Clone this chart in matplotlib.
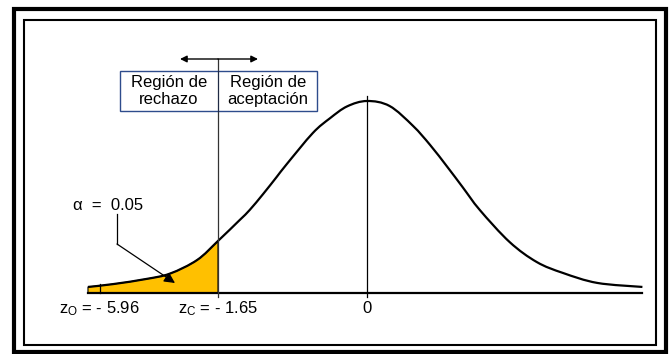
import numpy as np
import matplotlib as mpl
mpl.use('Agg')
import matplotlib.pyplot as plt
from matplotlib.patches import Rectangle, PathPatch
from matplotlib.path import Path

plt.rcParams['font.family'] = ['Liberation Sans', 'DejaVu Sans']
plt.rcParams['mathtext.fontset'] = 'custom'
plt.rcParams['mathtext.rm'] = 'Liberation Sans'
plt.rcParams['mathtext.it'] = 'Liberation Sans'

# curve (z, relative height, peak = 1)
z = [-3.09, -2.81, -2.44, -2.18, -1.88, -1.65, -1.41, -1.30, -1.15, -1.00,
     -0.89, -0.60, -0.41, -0.22, 0.00, 0.25, 0.51, 0.70, 0.89, 1.06,
     1.25, 1.58, 1.88, 2.17, 2.55, 3.05]
h = [0.030, 0.045, 0.072, 0.100, 0.171, 0.270, 0.379, 0.431, 0.515, 0.604,
     0.670, 0.833, 0.910, 0.972, 1.000, 0.974, 0.870, 0.770, 0.656, 0.550,
     0.431, 0.264, 0.160, 0.103, 0.051, 0.030]

z_crit = -1.65
z_obs_mark = -2.96   # where the z_O tick sits on the drawn axis
alpha_label = "α  =  0.05"
lbl_obs = r"z$_{\mathrm{O}}$ = - 5.96"
lbl_crit = r"z$_{\mathrm{C}}$ = - 1.65"
lbl_zero = "0"
left_box = "Región de\nrechazo"
right_box = "Región de\naceptación"

z = np.array(z)
h = np.array(h)


def smooth_path(xs, ys):
    # catmull-rom through the points, drawn as cubic bezier pieces
    pts = np.column_stack([xs, ys])
    verts = [pts[0]]
    codes = [Path.MOVETO]
    n = len(pts)
    for i in range(n - 1):
        p0 = pts[max(i - 1, 0)]
        p1 = pts[i]
        p2 = pts[i + 1]
        p3 = pts[min(i + 2, n - 1)]
        c1 = p1 + (p2 - p0) / 6.0
        c2 = p2 - (p3 - p1) / 6.0
        verts += [c1, c2, p2]
        codes += [Path.CURVE4] * 3
    return verts, codes


fig = plt.figure(figsize=(6.7, 3.54), dpi=100)
ax = fig.add_axes([0, 0, 1, 1])
ax.set_xlim(-367 / 90.3, 303 / 90.3)
ax.set_ylim((292.7 - 354) / 191.7, 292.7 / 191.7)
ax.axis('off')

# pixel overlay for frame / box / callouts
px = fig.add_axes([0, 0, 1, 1])
px.set_xlim(0, 670)
px.set_ylim(354, 0)
px.axis('off')
px.patch.set_alpha(0)

# frames
px.add_patch(Rectangle((13.5, 8.5), 652, 343, fill=False, lw=3, ec='black'))
px.add_patch(Rectangle((23.5, 20), 632, 325, fill=False, lw=1.5, ec='black'))

# shaded tail
m = z <= z_crit
tv, tc = smooth_path(z[m], h[m])
tv += [(z_crit, 0), (z[0], 0), (z[0], h[0])]
tc += [Path.LINETO, Path.LINETO, Path.CLOSEPOLY]
ax.add_patch(PathPatch(Path(tv, tc), fc='#FFC000', ec='black', lw=0.8))

cv, cc = smooth_path(z, h)
ax.add_patch(PathPatch(Path(cv, cc), fill=False, ec='black', lw=1.6))
ax.plot([z[0], z[-1]], [0, 0], color='black', lw=1.6)

ax.plot([0, 0], [-0.022, 1.026], color='black', lw=0.9)
ax.plot([z_crit, z_crit], [-0.022, 1.219], color='#333333', lw=0.9)
ax.plot([z_obs_mark, z_obs_mark], [0, 0.045], color='black', lw=0.9)

# double arrow over the critical line
px.annotate('', xy=(180, 59), xytext=(218, 59),
            arrowprops=dict(arrowstyle='-|>', color='black', lw=1,
                            mutation_scale=10, shrinkA=0, shrinkB=0))
px.annotate('', xy=(258, 59), xytext=(218, 59),
            arrowprops=dict(arrowstyle='-|>', color='black', lw=1,
                            mutation_scale=10, shrinkA=0, shrinkB=0))

# region box
px.add_patch(Rectangle((120, 71), 197, 40, fill=True, fc='white',
                       lw=1, ec='#2E4C8C', zorder=3))
px.plot([218, 218], [71, 111], color='#1F2A44', lw=0.9, zorder=4)
px.text(169, 91, left_box, ha='center', va='center', fontsize=12,
        linespacing=1.15, zorder=5)
px.text(268, 91, right_box, ha='center', va='center', fontsize=12,
        linespacing=1.15, zorder=5)

# alpha callout
px.text(108, 206, alpha_label, ha='center', va='center', fontsize=12)
px.plot([117, 117], [214, 244], color='black', lw=0.9)
px.annotate('', xy=(175, 283), xytext=(117, 244),
            arrowprops=dict(arrowstyle='-|>', color='black', lw=0.9,
                            mutation_scale=16, shrinkA=0, shrinkB=0))

# labels under the axis
ly = -0.085
ax.text(z_obs_mark, ly, lbl_obs, ha='center', va='center', fontsize=12)
ax.text(z_crit, ly, lbl_crit, ha='center', va='center', fontsize=12)
ax.text(0, ly, lbl_zero, ha='center', va='center', fontsize=12)

fig.savefig('out.png', dpi=100)
